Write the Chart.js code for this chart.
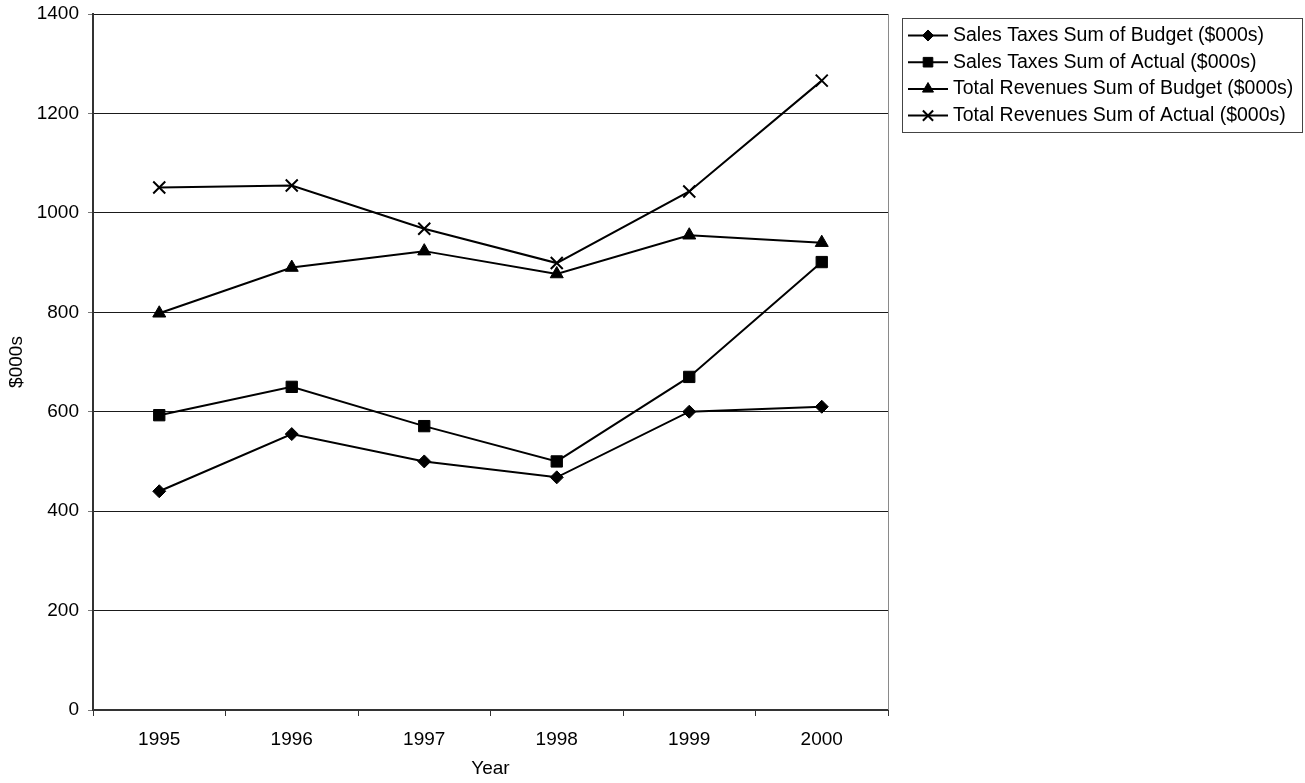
<!DOCTYPE html>
<html>
<head>
<meta charset="utf-8">
<title>Sales Taxes and Total Revenues, 1995–2000</title>
<script src="https://cdn.jsdelivr.net/npm/chart.js@4/dist/chart.umd.min.js"></script>
<style>
  html, body { margin: 0; padding: 0; background: #fff; }
  #wrap { width: 1305px; height: 783px; position: relative; }
</style>
</head>
<body>
<div id="wrap"><canvas id="chart" width="1305" height="783"></canvas></div>
<script>
// Years on the category axis
const years = ['1995', '1996', '1997', '1998', '1999', '2000'];

// Series values in $000s
const salesTaxesBudget   = [440, 555, 500, 468, 600, 610];
const salesTaxesActual   = [593, 650, 571, 500, 670, 901];
const totalRevenueBudget = [798, 890, 923, 877, 955, 940];
const totalRevenueActual = [1051, 1055, 968, 899, 1043, 1266];

// Series names
const seriesNames = [
  'Sales Taxes Sum of Budget ($000s)',
  'Sales Taxes Sum of Actual ($000s)',
  'Total Revenues Sum of Budget ($000s)',
  'Total Revenues Sum of Actual ($000s)'
];

// Value axis
const yMin = 0, yMax = 1400, yStep = 200;

const FONT = 'Liberation Sans, Arial, sans-serif';

const markers = [
  { pointStyle: 'rectRot',  pointRadius: 6.5, pointBorderWidth: 1 },
  { pointStyle: 'rect',     pointRadius: 8,   pointBorderWidth: 1 },
  { pointStyle: 'triangle', pointRadius: 7.5, pointBorderWidth: 1 },
  { pointStyle: 'crossRot', pointRadius: 8.5, pointBorderWidth: 2 }
];

const seriesData = [salesTaxesBudget, salesTaxesActual, totalRevenueBudget, totalRevenueActual];

const datasets = seriesData.map((vals, i) => Object.assign({
  label: seriesNames[i],
  data: vals,
  borderColor: '#000',
  backgroundColor: '#000',
  pointBackgroundColor: '#000',
  pointBorderColor: '#000',
  borderWidth: 2,
  tension: 0,
  fill: false
}, markers[i]));

// Plot frame: thin grey line on the right edge of the plot area
const frameRight = {
  id: 'frameRight',
  afterDatasetsDraw(chart) {
    const { ctx, chartArea: a } = chart;
    ctx.save();
    ctx.strokeStyle = '#8a8a8a';
    ctx.lineWidth = 1;
    ctx.beginPath();
    ctx.moveTo(Math.round(a.right) + 0.5, a.top);
    ctx.lineTo(Math.round(a.right) + 0.5, a.bottom);
    ctx.stroke();
    ctx.restore();
  }
};

// Boxed legend with a line-and-marker sample for each series
const boxedLegend = {
  id: 'boxedLegend',
  afterDraw(chart) {
    const { ctx } = chart;
    const box = { left: 902, top: 18, right: 1303, bottom: 133 };
    const rowTop = 35.5, rowStep = 26.7;
    ctx.save();
    ctx.strokeStyle = '#444';
    ctx.lineWidth = 1;
    ctx.strokeRect(box.left + 0.5, box.top + 0.5, box.right - box.left - 1, box.bottom - box.top - 1);
    chart.data.datasets.forEach((ds, i) => {
      const y = rowTop + i * rowStep;
      ctx.strokeStyle = '#000';
      ctx.lineWidth = 2;
      ctx.beginPath();
      ctx.moveTo(908, y);
      ctx.lineTo(948, y);
      ctx.stroke();
      ctx.fillStyle = '#000';
      ctx.strokeStyle = '#000';
      ctx.lineWidth = ds.pointBorderWidth;
      Chart.helpers.drawPoint(ctx, {
        pointStyle: ds.pointStyle,
        radius: ds.pointRadius * 0.85,
        rotation: 0,
        borderWidth: ds.pointBorderWidth
      }, 928, y);
      ctx.fillStyle = '#000';
      ctx.font = '19.5px ' + FONT;
      ctx.textBaseline = 'middle';
      ctx.textAlign = 'left';
      ctx.fillText(ds.label, 953, y);
    });
    ctx.restore();
  }
};

new Chart(document.getElementById('chart'), {
  type: 'line',
  data: { labels: years, datasets },
  plugins: [frameRight, boxedLegend],
  options: {
    responsive: false,
    animation: false,
    layout: { padding: { left: 0, top: 14, right: 417, bottom: 0 } },
    plugins: {
      legend: { display: false },
      tooltip: { enabled: false }
    },
    scales: {
      x: {
        type: 'category',
        offset: true,
        afterFit(scale) { scale.height = 73; },
        grid: {
          display: true,
          offset: true,
          drawOnChartArea: false,
          drawTicks: true,
          tickLength: 6,
          tickColor: '#333',
          tickWidth: 1
        },
        border: { display: true, color: '#333', width: 2 },
        ticks: { color: '#000', padding: 12, font: { family: FONT, size: 19 }, maxRotation: 0 },
        title: {
          display: true,
          text: 'Year',
          color: '#000',
          font: { family: FONT, size: 19 },
          padding: { top: 0, bottom: 3 }
        }
      },
      y: {
        min: yMin,
        max: yMax,
        afterFit(scale) {
          scale.width = 93;
          scale.paddingTop = 0;
        },
        grid: {
          color: '#1a1a1a',
          lineWidth: 1,
          drawTicks: true,
          tickLength: 5,
          tickColor: '#777'
        },
        border: { display: true, color: '#333', width: 2 },
        ticks: {
          stepSize: yStep,
          color: '#000',
          padding: 9,
          font: { family: FONT, size: 19 },
          callback: (v) => String(v)
        },
        title: {
          display: true,
          text: '$000s',
          color: '#000',
          font: { family: FONT, size: 19 },
          padding: { top: 5, bottom: 0 }
        }
      }
    }
  }
});
</script>
</body>
</html>
